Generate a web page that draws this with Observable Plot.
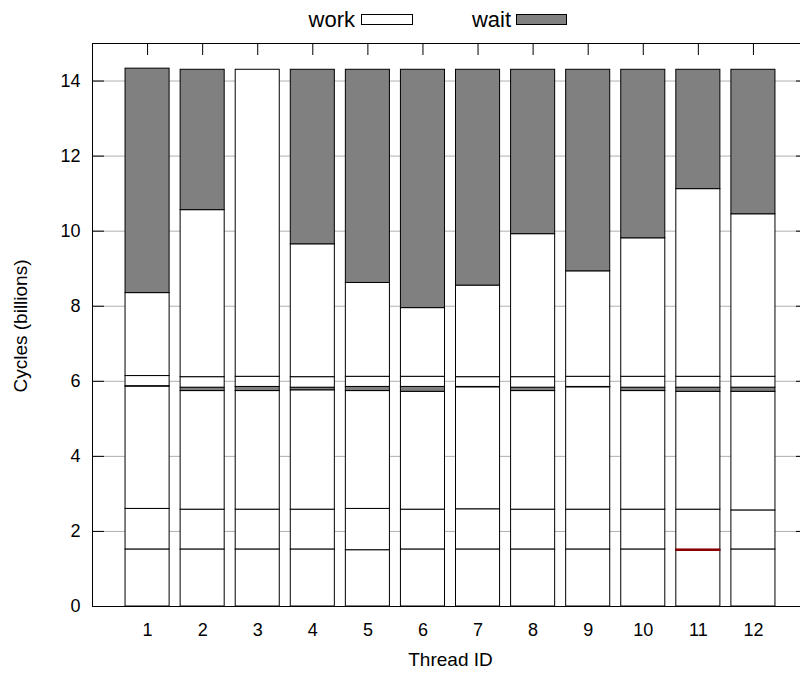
<!DOCTYPE html>
<html>
<head>
<meta charset="utf-8">
<script src="https://cdn.jsdelivr.net/npm/d3@7"></script>
<script src="https://cdn.jsdelivr.net/npm/@observablehq/plot@0.6"></script>
<style>
  html, body { margin: 0; padding: 0; background: white; }
  #wrap { position: relative; width: 800px; height: 683px; font-family: "Liberation Sans", Arial, sans-serif; overflow: hidden; }
  .lg { position: absolute; font-size: 22px; line-height: 22px; color: #000; }
  .sw { position: absolute; height: 11px; border: 1px solid #000; box-sizing: border-box; }
  #chart { position: absolute; left: 0; top: 0; }
  #ytitle { position: absolute; left: 20px; top: 326px; width: 0; height: 0; }
  #ytitle span { position: absolute; left: 0; top: 0; transform: translate(-50%, -50%) rotate(-90deg); white-space: nowrap; font-size: 19px; line-height: 19px; }
</style>
</head>
<body>
<div id="wrap">
  <div id="chart"></div>
  <span class="lg" style="right:445px; top:9px;">work</span>
  <div class="sw" style="left:361px; top:14px; width:52px; background:#ffffff;"></div>
  <span class="lg" style="right:289px; top:9px;">wait</span>
  <div class="sw" style="left:516px; top:14px; width:51px; background:#808080;"></div>
  <div id="ytitle"><span>Cycles (billions)</span></div>
</div>
<script>
// ---- data (billions of cycles) ----
const threads   = [1, 2, 3, 4, 5, 6, 7, 8, 9, 10, 11, 12];
const split1    = [1.52, 1.52, 1.52, 1.52, 1.50, 1.52, 1.52, 1.52, 1.52, 1.52, 1.49, 1.52];
const split2    = [2.60, 2.58, 2.58, 2.58, 2.60, 2.58, 2.59, 2.58, 2.58, 2.58, 2.58, 2.56];
const waitLo    = [5.86, 5.74, 5.74, 5.76, 5.74, 5.72, 5.84, 5.74, 5.84, 5.74, 5.72, 5.72];
const waitHi    = [5.87, 5.83, 5.85, 5.83, 5.85, 5.85, 5.85, 5.83, 5.85, 5.83, 5.83, 5.83];
const split3    = [6.14, 6.11, 6.12, 6.11, 6.12, 6.12, 6.11, 6.11, 6.12, 6.12, 6.12, 6.12];
const workTop   = [8.35, 10.56, 14.30, 9.65, 8.62, 7.95, 8.55, 9.92, 8.93, 9.81, 11.12, 10.45];
const total     = [14.33, 14.30, 14.30, 14.30, 14.30, 14.30, 14.30, 14.30, 14.30, 14.30, 14.30, 14.30];
const redLo     = [null, null, null, null, null, null, null, null, null, null, 1.48, null];
const redHi     = [null, null, null, null, null, null, null, null, null, null, 1.52, null];
const yTicks    = [0, 2, 4, 6, 8, 10, 12, 14];
const kinds     = ["work", "wait"];

const segs = [];
threads.forEach((t, i) => {
  const b = [0, split1[i], split2[i], waitLo[i], waitHi[i], split3[i], workTop[i], total[i]];
  const k = ["work", "work", "work", "wait", "work", "work", "wait"];
  for (let j = 0; j < k.length; j++) segs.push({thread: t, y1: b[j], y2: b[j + 1], kind: k[j]});
});
const reds = threads.map((t, i) => ({thread: t, y1: redLo[i], y2: redHi[i]})).filter(d => d.y1 != null);

const chart = Plot.plot({
  width: 800,
  height: 683,
  marginLeft: 92,
  marginRight: 0,
  marginTop: 43,
  marginBottom: 77,
  style: {fontFamily: "'Liberation Sans', Arial, sans-serif", fontSize: "18px", background: "transparent", color: "black"},
  x: {type: "linear", domain: [0, 13], range: [92, 808]},
  y: {domain: [0, 15]},
  color: {domain: kinds, range: ["#ffffff", "#808080"]},
  marks: [
    Plot.ruleY(yTicks, {stroke: "#b0b0b0", strokeWidth: 1}),
    Plot.tickX(threads, {x: d => d, insetTop: 551, stroke: "black"}),
    Plot.rect(segs, {x1: d => d.thread - 0.4, x2: d => d.thread + 0.4, y1: "y1", y2: "y2", fill: "kind", stroke: "black", strokeWidth: 1}),
    Plot.rect(reds, {x1: d => d.thread - 0.4, x2: d => d.thread + 0.4, y1: "y1", y2: "y2", fill: "#8b0000", stroke: "#8b0000", strokeWidth: 1}),
    Plot.ruleY([0], {stroke: "black"}),
    Plot.ruleY([15], {stroke: "black"}),
    Plot.ruleX([0], {stroke: "black"}),
    Plot.tickY(yTicks, {y: d => d, insetRight: 696, stroke: "black"}),
    Plot.tickY(yTicks, {y: d => d, insetLeft: 696, dx: 8, stroke: "black"}),
    Plot.tickX(threads, {x: d => d, insetBottom: 551, stroke: "black"}),
    Plot.axisY(yTicks, {tickSize: 0, tickPadding: 12, label: null, fontSize: 18}),
    Plot.axisX(threads, {tickSize: 0, tickPadding: 17, label: null, fontSize: 18}),
    Plot.text(["Thread ID"], {frameAnchor: "bottom", x: () => 6.5, dy: 59, fontSize: 19})
  ]
});
document.getElementById("chart").appendChild(chart);
</script>
</body>
</html>
